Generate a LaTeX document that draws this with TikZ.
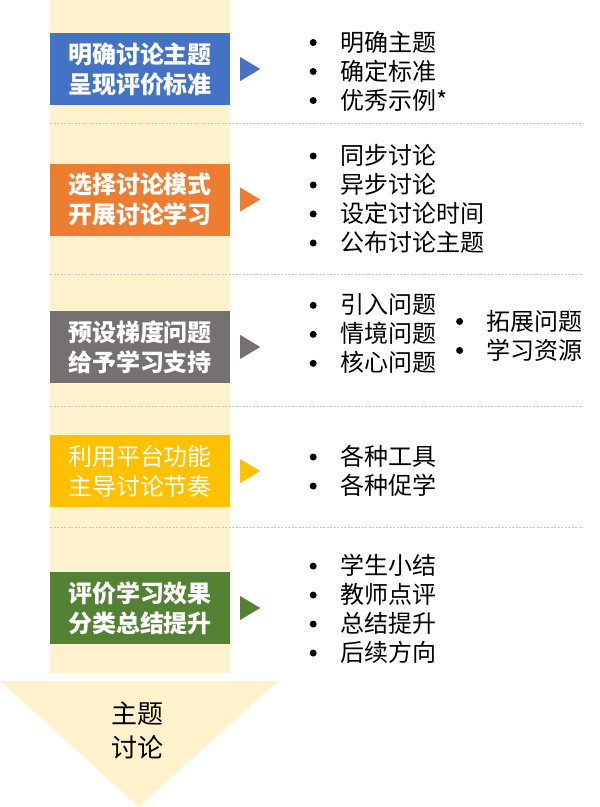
\documentclass[tikz,border=0pt]{standalone}
\usepackage{fontspec}
\setmainfont{Noto Sans CJK SC}
\usepackage{tikz}
\usetikzlibrary{shapes.geometric,positioning}

\definecolor{colbg}{HTML}{FFF2CC}
\definecolor{stepblue}{HTML}{4472C4}
\definecolor{steporange}{HTML}{ED7D31}
\definecolor{stepgray}{HTML}{767171}
\definecolor{stepyellow}{HTML}{FFC000}
\definecolor{stepgreen}{HTML}{548235}
\newcommand\bul[1]{\makebox[14pt]{\tikz[baseline=-0.36em]\fill (0pt,0pt) circle (3.5pt);}\hspace{20pt}#1}

\begin{document}
\begin{tikzpicture}
  [x=1pt,y=-1pt,
   stepbox/.style={rectangle,minimum width=180pt,minimum height=72pt,inner sep=0pt,
     text=white,align=center,font=\bfseries\fontsize{24}{30}\selectfont},
   itemlist/.style={anchor=west,align=left,inner sep=0pt,font=\fontsize{24}{29}\selectfont},
   sep/.style={gray!45,line width=0.8pt,dash pattern=on 2pt off 1.5pt}]

  \useasboundingbox (0,0) rectangle (600,807);

  % background column and final triangle
  \node[fill=colbg,minimum width=180pt,minimum height=673pt,inner sep=0pt,anchor=north west] (column) at (50,0) {};
  \fill[colbg] (0,681) -- (278,681) -- (139,807) -- cycle;
  \node[font=\fontsize{26}{34}\selectfont,align=center] (theme) at (137,730) {主题\\讨论};

  % separators
  \foreach \y in {123,274,406,527}
    \draw[sep] (50,\y) -- (583,\y);

  % steps
  \node[stepbox,fill=stepblue] (s1) at (140,69) {明确讨论主题\\呈现评价标准};
  \node[stepbox,fill=steporange] (s2) at (140,199.5) {选择讨论模式\\开展讨论学习};
  \node[stepbox,fill=stepgray] (s3) at (140,347) {预设梯度问题\\给予学习支持};
  \node[stepbox,fill=stepyellow,font=\fontsize{24}{30}\selectfont] (s4) at (140,471) {利用平台功能\\主导讨论节奏};
  \node[stepbox,fill=stepgreen] (s5) at (140,608) {评价学习效果\\分类总结提升};

  % pointers
  \foreach \s/\c in {s1/stepblue,s2/steporange,s3/stepgray,s4/stepyellow,s5/stepgreen}
    \fill[\c] ([xshift=10pt,yshift=12pt]\s.east) -- ++(20pt,-12pt) -- ++(-20pt,-12pt) -- cycle;

  % item lists
  \node[itemlist] (l1) at (306,71) {\bul{明确主题}\\\bul{确定标准}\\\bul{优秀示例*}};
  \node[itemlist] (l2) at (306,199) {\bul{同步讨论}\\\bul{异步讨论}\\\bul{设定讨论时间}\\\bul{公布讨论主题}};
  \node[itemlist] (l3) at (306,334) {\bul{引入问题}\\\bul{情境问题}\\\bul{核心问题}};
  \node[itemlist,right=16pt of l3.east,yshift=-1.5pt] (l3b) {\bul{拓展问题}\\\bul{学习资源}};
  \node[itemlist] (l4) at (306,471) {\bul{各种工具}\\\bul{各种促学}};
  \node[itemlist] (l5) at (306,609) {\bul{学生小结}\\\bul{教师点评}\\\bul{总结提升}\\\bul{后续方向}};

\end{tikzpicture}
\end{document}
